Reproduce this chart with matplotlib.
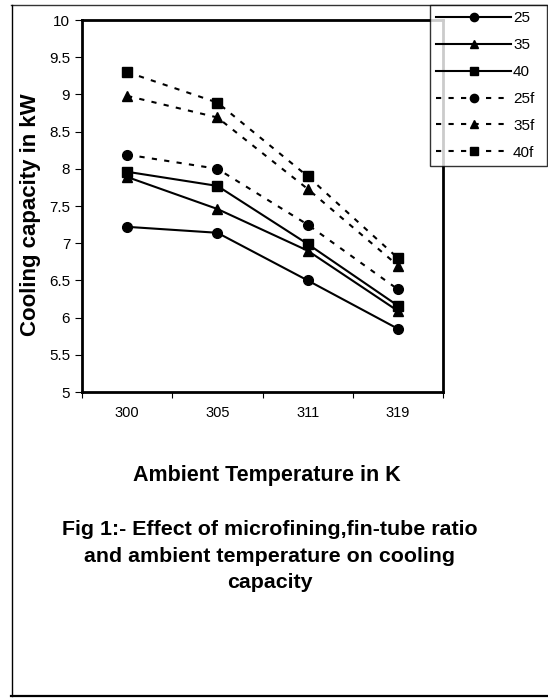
import matplotlib
matplotlib.use("Agg")
import matplotlib.pyplot as plt
from matplotlib.lines import Line2D
from matplotlib.ticker import FixedLocator, FuncFormatter, NullFormatter

plt.rcParams['font.family'] = ['Liberation Sans', 'DejaVu Sans']

# ---- data ----
temps = ['300', '305', '311', '319']
s25 = [7.22, 7.14, 6.50, 5.85]
s35 = [7.89, 7.46, 6.90, 6.09]
s40 = [7.96, 7.77, 6.99, 6.16]
s25f = [8.19, 8.00, 7.25, 6.38]
s35f = [8.98, 8.69, 7.73, 6.70]
s40f = [9.30, 8.89, 7.90, 6.80]
series_labels = ['25', '35', '40', '25f', '35f', '40f']
yticks = [5, 5.5, 6, 6.5, 7, 7.5, 8, 8.5, 9, 9.5, 10]

W, H = 548, 698
fig = plt.figure(figsize=(W / 100, H / 100), dpi=100)
ax = fig.add_axes([82 / W, 1 - 392 / H, 361 / W, 372 / H])

x = list(range(len(temps)))
dash = (0, (2.5, 3.5))
styles = [
    (s25, 'o', '-'), (s35, '^', '-'), (s40, 's', '-'),
    (s25f, 'o', dash), (s35f, '^', dash), (s40f, 's', dash),
]
handles = []
for (vals, mk, ls), lab in zip(styles, series_labels):
    ms = 7.5 if mk == '^' else 7
    h, = ax.plot(x, vals, color='black', lw=1.5, linestyle=ls, marker=mk,
                 markersize=ms, markerfacecolor='black', markeredgecolor='black',
                 label=lab, clip_on=False)
    handles.append(h)

ax.set_xlim(-0.5, len(temps) - 0.5)
ax.set_ylim(5, 10)
ax.xaxis.set_major_locator(FixedLocator([i - 0.5 for i in range(len(temps) + 1)]))
ax.xaxis.set_major_formatter(NullFormatter())
ax.xaxis.set_minor_locator(FixedLocator(x))
ax.set_xticklabels(temps, minor=True)
ax.tick_params(axis='x', which='minor', length=0, pad=10, labelsize=10.5)
ax.tick_params(axis='x', which='major', length=4, width=0.8, direction='out')
ax.set_yticks(yticks)
ax.yaxis.set_major_formatter(FuncFormatter(lambda v, _: f'{v:g}'))
ax.tick_params(axis='y', length=5, width=0.8, direction='out', pad=3.5, labelsize=11)
for sp in ax.spines.values():
    sp.set_linewidth(2)
    sp.set_color('black')

# labels
fig.text(31 / W, 1 - 215 / H, 'Cooling capacity in kW', rotation=90,
         ha='center', va='center', fontsize=16, fontweight='bold')
fig.text(267 / W, 1 - 475 / H, 'Ambient Temperature in K',
         ha='center', va='center', fontsize=15.5, fontweight='bold')
fig.text(270 / W, 1 - 556 / H,
         'Fig 1:- Effect of microfining,fin-tube ratio\nand ambient temperature on cooling\ncapacity',
         ha='center', va='center', fontsize=15.4, fontweight='bold',
         multialignment='center', linespacing=1.5)

# legend
leg = fig.legend(handles=handles, loc='upper left',
                 bbox_to_anchor=(430 / W, 1 - 164 / H, 117 / W, 159 / H),
                 mode='expand', borderaxespad=0, fontsize=11,
                 handlelength=4.9, handletextpad=0.12, borderpad=0.42,
                 labelspacing=0.84, numpoints=1, markerscale=0.85,
                 fancybox=False, frameon=True)
leg.get_frame().set_edgecolor('black')
leg.get_frame().set_linewidth(1)
leg.set_zorder(10)

# outer page frame
fig.add_artist(Line2D([11 / W, 1], [1 - 5 / H, 1 - 5 / H], transform=fig.transFigure,
                      color='#333333', lw=1))
fig.add_artist(Line2D([11.5 / W, 11.5 / W], [1 - 5 / H, 1 - 696 / H], transform=fig.transFigure,
                      color='black', lw=1))
fig.add_artist(Line2D([11 / W, 1], [1 - 695.5 / H, 1 - 695.5 / H], transform=fig.transFigure,
                      color='black', lw=1.6))

fig.savefig('out.png', dpi=100)
